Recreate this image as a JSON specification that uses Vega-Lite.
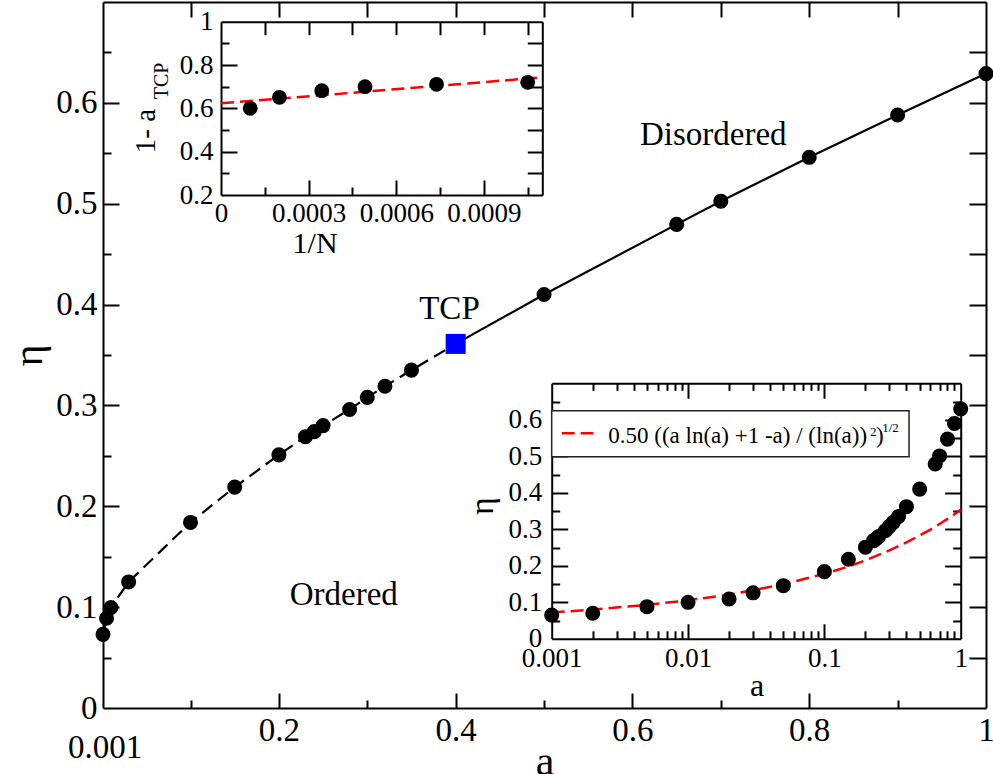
{
  "$schema": "https://vega.github.io/schema/vega-lite/v6.json",
  "width": 883,
  "height": 706,
  "autosize": {"type": "none"},
  "padding": {"left": 103, "top": 2, "right": 7, "bottom": 66},
  "background": "white",
  "config": {
    "view": {"stroke": null},
    "font": "Liberation Serif",
    "axis": {"grid": false, "domainColor": "black", "domainWidth": 2, "tickColor": "black", "tickWidth": 2, "labelColor": "black", "labelFont": "Liberation Serif", "titleFont": "Liberation Serif", "titleFontWeight": "normal", "titleColor": "black", "labelFlush": false, "labelOverlap": false},
    "text": {"font": "Liberation Serif", "color": "black"}
  },
  "datasets": {
    "phase": [
      {"a": 0.001, "eta": 0.073, "branch": "ordered"},
      {"a": 0.005, "eta": 0.089, "branch": "ordered"},
      {"a": 0.01, "eta": 0.0996, "branch": "ordered"},
      {"a": 0.03, "eta": 0.125, "branch": "ordered"},
      {"a": 0.1, "eta": 0.184, "branch": "ordered"},
      {"a": 0.15, "eta": 0.219, "branch": "ordered"},
      {"a": 0.2, "eta": 0.251, "branch": "ordered"},
      {"a": 0.23, "eta": 0.269, "branch": "ordered"},
      {"a": 0.24, "eta": 0.274, "branch": "ordered"},
      {"a": 0.25, "eta": 0.28, "branch": "ordered"},
      {"a": 0.28, "eta": 0.296, "branch": "ordered"},
      {"a": 0.3, "eta": 0.308, "branch": "ordered"},
      {"a": 0.32, "eta": 0.319, "branch": "ordered"},
      {"a": 0.35, "eta": 0.335, "branch": "ordered"},
      {"a": 0.4, "eta": 0.361, "branch": "tcp"},
      {"a": 0.5, "eta": 0.41, "branch": "disordered"},
      {"a": 0.65, "eta": 0.4795, "branch": "disordered"},
      {"a": 0.7, "eta": 0.5025, "branch": "disordered"},
      {"a": 0.8, "eta": 0.546, "branch": "disordered"},
      {"a": 0.9, "eta": 0.588, "branch": "disordered"},
      {"a": 1.0, "eta": 0.629, "branch": "disordered"}
    ],
    "main_text": [
      {"t": "TCP", "a": 0.393, "eta": 0.3854},
      {"t": "Ordered", "a": 0.2734, "eta": 0.1021},
      {"t": "Disordered", "a": 0.6915, "eta": 0.5582},
      {"t": "0.001", "a": 0.0033, "eta": -0.0499}
    ],
    "tl_pts": [
      {"invN": 0.0001, "v": 0.6},
      {"invN": 0.0002, "v": 0.651},
      {"invN": 0.000345, "v": 0.6815},
      {"invN": 0.000493, "v": 0.7},
      {"invN": 0.000738, "v": 0.711},
      {"invN": 0.00105, "v": 0.72}
    ],
    "tl_fit": [
      {"invN": 0, "v": 0.623},
      {"invN": 0.0011, "v": 0.743}
    ],
    "tl_xtitle": [{"t": "1/N", "invN": 0.000322, "v": -0.0678}],
    "tl_ytitle": [{"t": "1- a", "invN": -0.0002568, "v": 0.4955}],
    "tl_ysub": [{"t": "TCP", "invN": -0.0002003, "v": 0.7263}],
    "br_pts": [
      {"a": 0.001, "eta": 0.065},
      {"a": 0.002, "eta": 0.07},
      {"a": 0.005, "eta": 0.088},
      {"a": 0.01, "eta": 0.1},
      {"a": 0.02, "eta": 0.109},
      {"a": 0.03, "eta": 0.126},
      {"a": 0.05, "eta": 0.1455},
      {"a": 0.1, "eta": 0.184},
      {"a": 0.15, "eta": 0.218},
      {"a": 0.2, "eta": 0.251},
      {"a": 0.23, "eta": 0.269},
      {"a": 0.24, "eta": 0.274},
      {"a": 0.25, "eta": 0.28},
      {"a": 0.28, "eta": 0.296},
      {"a": 0.3, "eta": 0.308},
      {"a": 0.32, "eta": 0.319},
      {"a": 0.35, "eta": 0.335},
      {"a": 0.4, "eta": 0.362},
      {"a": 0.5, "eta": 0.41},
      {"a": 0.65, "eta": 0.479},
      {"a": 0.7, "eta": 0.501},
      {"a": 0.8, "eta": 0.547},
      {"a": 0.9, "eta": 0.59},
      {"a": 1.0, "eta": 0.63}
    ],
    "br_fit": [
      {"a": 0.001, "eta": 0.072},
      {"a": 0.002, "eta": 0.08},
      {"a": 0.005, "eta": 0.093},
      {"a": 0.01, "eta": 0.1055},
      {"a": 0.02, "eta": 0.121},
      {"a": 0.05, "eta": 0.149},
      {"a": 0.1, "eta": 0.178},
      {"a": 0.15, "eta": 0.198},
      {"a": 0.2, "eta": 0.215},
      {"a": 0.3, "eta": 0.242},
      {"a": 0.4, "eta": 0.264},
      {"a": 0.5, "eta": 0.283},
      {"a": 0.6, "eta": 0.299},
      {"a": 0.7, "eta": 0.3145},
      {"a": 0.8, "eta": 0.3285},
      {"a": 0.9, "eta": 0.341},
      {"a": 1.0, "eta": 0.3535}
    ],
    "br_box": [{"a1": 0.001, "a2": 0.418, "e1": 0.4989, "e2": 0.625}],
    "br_sample": [
      {"a": 0.001184, "eta": 0.563},
      {"a": 0.002019, "eta": 0.563}
    ],
    "br_legtext": [
      {"t": "0.50 ((a ln(a) +1 -a) / (ln(a))", "a": 0.0026, "eta": 0.5356},
      {"t": ")", "a": 0.2392, "eta": 0.5356}
    ],
    "br_legsup": [
      {"t": "2", "a": 0.2162, "eta": 0.5556},
      {"t": "1/2", "a": 0.2655, "eta": 0.5674}
    ],
    "br_xtitle": [{"t": "a", "a": 0.03206, "eta": -0.1567}],
    "br_ytitle": [{"t": "η", "a": 0.000313, "eta": 0.3638}]
  },
  "layer": [
    {
      "resolve": {"axis": {"x": "independent", "y": "independent"}},
      "layer": [
        {
          "data": {"name": "phase"},
          "transform": [{"filter": "datum.branch != 'disordered'"}],
          "mark": {"type": "line", "color": "black", "strokeWidth": 2.2, "strokeDash": [13, 7]},
          "encoding": {
            "x": {"field": "a", "type": "quantitative", "scale": {"domain": [0.001, 1], "nice": false, "zero": false},
              "axis": {"orient": "bottom", "values": [0.2, 0.4, 0.6, 0.8, 1], "format": "~g", "ticks": false, "domain": true, "labelFontSize": 33, "labelPadding": 6, "title": "a", "titleFontSize": 42, "titleBaseline": "alphabetic", "titlePadding": 27}},
            "y": {"field": "eta", "type": "quantitative", "scale": {"domain": [0, 0.7], "nice": false, "zero": false},
              "axis": {"orient": "left", "values": [0, 0.1, 0.2, 0.3, 0.4, 0.5, 0.6], "format": "~g", "ticks": false, "domain": true, "labelFontSize": 33, "labelPadding": 6, "title": "η", "titleFontSize": 42, "titlePadding": 5}}
          }
        },
        {
          "data": {"name": "phase"},
          "transform": [{"filter": "datum.branch != 'ordered'"}],
          "mark": {"type": "line", "color": "black", "strokeWidth": 2.2},
          "encoding": {
            "x": {"field": "a", "type": "quantitative", "scale": {"domain": [0.001, 1], "nice": false, "zero": false},
              "axis": {"orient": "bottom", "values": [0.2, 0.4, 0.6, 0.8], "labels": false, "domain": false, "tickSize": -15, "title": null}},
            "y": {"field": "eta", "type": "quantitative", "scale": {"domain": [0, 0.7], "nice": false, "zero": false},
              "axis": {"orient": "left", "values": [0.1, 0.2, 0.3, 0.4, 0.5, 0.6], "labels": false, "domain": false, "tickSize": -16, "title": null}}
          }
        },
        {
          "data": {"name": "phase"},
          "transform": [{"filter": "datum.branch != 'tcp'"}],
          "mark": {"type": "circle", "color": "black", "opacity": 1, "size": 227},
          "encoding": {
            "x": {"field": "a", "type": "quantitative", "scale": {"domain": [0.001, 1], "nice": false, "zero": false},
              "axis": {"orient": "bottom", "values": [0.1, 0.3, 0.5, 0.7, 0.9], "labels": false, "domain": false, "tickSize": -8, "title": null}},
            "y": {"field": "eta", "type": "quantitative", "scale": {"domain": [0, 0.7], "nice": false, "zero": false},
              "axis": {"orient": "left", "values": [0.05, 0.15, 0.25, 0.35, 0.45, 0.55, 0.65], "labels": false, "domain": false, "tickSize": -8, "title": null}}
          }
        },
        {
          "data": {"name": "phase"},
          "transform": [{"filter": "datum.branch == 'tcp'"}],
          "mark": {"type": "square", "color": "#0000ff", "opacity": 1, "size": 400},
          "encoding": {
            "x": {"field": "a", "type": "quantitative", "scale": {"domain": [0.001, 1], "nice": false, "zero": false},
              "axis": {"orient": "top", "values": [0.1, 0.2, 0.3, 0.4, 0.5, 0.6, 0.7, 0.8, 0.9], "labels": false, "domain": true, "tickSize": -15, "title": null}},
            "y": {"field": "eta", "type": "quantitative", "scale": {"domain": [0, 0.7], "nice": false, "zero": false},
              "axis": {"orient": "right", "values": [0.05, 0.1, 0.15, 0.2, 0.25, 0.3, 0.35, 0.4, 0.45, 0.5, 0.55, 0.6, 0.65], "labels": false, "domain": true, "tickSize": -17, "title": null}}
          }
        },
        {
          "data": {"name": "main_text"},
          "mark": {"type": "text", "fontSize": 33, "align": "center", "baseline": "alphabetic"},
          "encoding": {
            "x": {"field": "a", "type": "quantitative", "scale": {"domain": [0.001, 1], "nice": false, "zero": false}, "axis": null},
            "y": {"field": "eta", "type": "quantitative", "scale": {"domain": [0, 0.7], "nice": false, "zero": false}, "axis": null},
            "text": {"field": "t"}
          }
        }
      ]
    },
    {
      "resolve": {"axis": {"x": "independent", "y": "independent"}},
      "layer": [
        {
          "data": {"name": "tl_fit"},
          "mark": {"type": "line", "color": "#ff0000", "strokeWidth": 2.5, "strokeDash": [13, 6]},
          "encoding": {
            "x": {"field": "invN", "type": "quantitative", "scale": {"domain": [0, 0.0011], "range": [118, 439.3], "nice": false, "zero": false},
              "axis": {"orient": "bottom", "offset": -513, "values": [0, 0.0003, 0.0006, 0.0009], "format": "~g", "ticks": false, "domain": true, "labelFontSize": 27, "labelPadding": 5, "title": null}},
            "y": {"field": "v", "type": "quantitative", "scale": {"domain": [0.2, 1], "range": [193, 19.7], "nice": false, "zero": false},
              "axis": {"orient": "left", "offset": -118, "values": [0.2, 0.4, 0.6, 0.8, 1], "format": "~g", "ticks": false, "domain": true, "labelFontSize": 27, "labelPadding": 8, "title": null}}
          }
        },
        {
          "data": {"name": "tl_pts"},
          "mark": {"type": "circle", "color": "black", "opacity": 1, "size": 220},
          "encoding": {
            "x": {"field": "invN", "type": "quantitative", "scale": {"domain": [0, 0.0011], "range": [118, 439.3], "nice": false, "zero": false},
              "axis": {"orient": "bottom", "offset": -513, "values": [0.0003, 0.0006, 0.0009], "labels": false, "domain": false, "tickSize": -15, "title": null}},
            "y": {"field": "v", "type": "quantitative", "scale": {"domain": [0.2, 1], "range": [193, 19.7], "nice": false, "zero": false},
              "axis": {"orient": "left", "offset": -118, "values": [0.4, 0.6, 0.8], "labels": false, "domain": false, "tickSize": -16, "title": null}}
          }
        },
        {
          "data": {"name": "tl_pts"},
          "mark": {"type": "point", "opacity": 0},
          "encoding": {
            "x": {"field": "invN", "type": "quantitative", "scale": {"domain": [0, 0.0011], "range": [118, 439.3], "nice": false, "zero": false},
              "axis": {"orient": "bottom", "offset": -513, "values": [0.00015, 0.00045, 0.00075, 0.00105], "labels": false, "domain": false, "tickSize": -8, "title": null}},
            "y": {"field": "v", "type": "quantitative", "scale": {"domain": [0.2, 1], "range": [193, 19.7], "nice": false, "zero": false},
              "axis": {"orient": "left", "offset": -118, "values": [0.3, 0.5, 0.7, 0.9], "labels": false, "domain": false, "tickSize": -8, "title": null}}
          }
        },
        {
          "data": {"name": "tl_pts"},
          "mark": {"type": "point", "opacity": 0},
          "encoding": {
            "x": {"field": "invN", "type": "quantitative", "scale": {"domain": [0, 0.0011], "range": [118, 439.3], "nice": false, "zero": false},
              "axis": {"orient": "top", "offset": -19.7, "values": [0.00015, 0.0003, 0.00045, 0.0006, 0.00075, 0.0009, 0.00105], "labels": false, "domain": true, "tickSize": -13, "title": null}},
            "y": {"field": "v", "type": "quantitative", "scale": {"domain": [0.2, 1], "range": [193, 19.7], "nice": false, "zero": false},
              "axis": {"orient": "right", "offset": -443.7, "values": [0.3, 0.4, 0.5, 0.6, 0.7, 0.8, 0.9], "labels": false, "domain": true, "tickSize": -15, "title": null}}
          }
        },
        {
          "data": {"name": "tl_xtitle"},
          "mark": {"type": "text", "fontSize": 30, "align": "center", "baseline": "alphabetic"},
          "encoding": {
            "x": {"field": "invN", "type": "quantitative", "scale": {"domain": [0, 0.0011], "range": [118, 439.3], "nice": false, "zero": false}, "axis": null},
            "y": {"field": "v", "type": "quantitative", "scale": {"domain": [0.2, 1], "range": [193, 19.7], "nice": false, "zero": false}, "axis": null},
            "text": {"field": "t"}
          }
        },
        {
          "data": {"name": "tl_ytitle"},
          "mark": {"type": "text", "fontSize": 29, "align": "center", "baseline": "middle", "angle": 270},
          "encoding": {
            "x": {"field": "invN", "type": "quantitative", "scale": {"domain": [0, 0.0011], "range": [118, 439.3], "nice": false, "zero": false}, "axis": null},
            "y": {"field": "v", "type": "quantitative", "scale": {"domain": [0.2, 1], "range": [193, 19.7], "nice": false, "zero": false}, "axis": null},
            "text": {"field": "t"}
          }
        },
        {
          "data": {"name": "tl_ysub"},
          "mark": {"type": "text", "fontSize": 20, "align": "center", "baseline": "middle", "angle": 270},
          "encoding": {
            "x": {"field": "invN", "type": "quantitative", "scale": {"domain": [0, 0.0011], "range": [118, 439.3], "nice": false, "zero": false}, "axis": null},
            "y": {"field": "v", "type": "quantitative", "scale": {"domain": [0.2, 1], "range": [193, 19.7], "nice": false, "zero": false}, "axis": null},
            "text": {"field": "t"}
          }
        }
      ]
    },
    {
      "resolve": {"axis": {"x": "independent", "y": "independent"}},
      "layer": [
        {
          "data": {"name": "br_fit"},
          "mark": {"type": "line", "color": "#ff0000", "strokeWidth": 2.5, "strokeDash": [13, 6]},
          "encoding": {
            "x": {"field": "a", "type": "quantitative", "scale": {"type": "log", "domain": [0.001, 1], "range": [448.7, 857.7], "nice": false},
              "axis": {"orient": "bottom", "offset": -69.2, "values": [0.001, 0.01, 0.1, 1], "format": "~g", "ticks": false, "domain": true, "labelFontSize": 27, "labelPadding": 7, "title": null}},
            "y": {"field": "eta", "type": "quantitative", "scale": {"domain": [0, 0.7], "range": [636.8, 381.3], "nice": false, "zero": false},
              "axis": {"orient": "left", "offset": -448.7, "values": [0, 0.1, 0.2, 0.3, 0.4, 0.5, 0.6], "format": "~g", "ticks": false, "domain": true, "labelFontSize": 27, "labelPadding": 10, "title": null}}
          }
        },
        {
          "data": {"name": "br_pts"},
          "mark": {"type": "circle", "color": "black", "opacity": 1, "size": 227},
          "encoding": {
            "x": {"field": "a", "type": "quantitative", "scale": {"type": "log", "domain": [0.001, 1], "range": [448.7, 857.7], "nice": false},
              "axis": {"orient": "bottom", "offset": -69.2, "values": [0.01, 0.1], "labels": false, "domain": false, "tickSize": -15, "title": null}},
            "y": {"field": "eta", "type": "quantitative", "scale": {"domain": [0, 0.7], "range": [636.8, 381.3], "nice": false, "zero": false},
              "axis": {"orient": "left", "offset": -448.7, "values": [0.1, 0.2, 0.3, 0.4, 0.5, 0.6], "labels": false, "domain": false, "tickSize": -16, "title": null}}
          }
        },
        {
          "data": {"name": "br_pts"},
          "mark": {"type": "point", "opacity": 0},
          "encoding": {
            "x": {"field": "a", "type": "quantitative", "scale": {"type": "log", "domain": [0.001, 1], "range": [448.7, 857.7], "nice": false},
              "axis": {"orient": "bottom", "offset": -69.2, "values": [0.002, 0.003, 0.004, 0.005, 0.006, 0.007, 0.008, 0.009, 0.02, 0.03, 0.04, 0.05, 0.06, 0.07, 0.08, 0.09, 0.2, 0.3, 0.4, 0.5, 0.6, 0.7, 0.8, 0.9], "labels": false, "domain": false, "tickSize": -8, "title": null}},
            "y": {"field": "eta", "type": "quantitative", "scale": {"domain": [0, 0.7], "range": [636.8, 381.3], "nice": false, "zero": false},
              "axis": {"orient": "left", "offset": -448.7, "values": [0.05, 0.15, 0.25, 0.35, 0.45, 0.55, 0.65], "labels": false, "domain": false, "tickSize": -8, "title": null}}
          }
        },
        {
          "data": {"name": "br_pts"},
          "mark": {"type": "point", "opacity": 0},
          "encoding": {
            "x": {"field": "a", "type": "quantitative", "scale": {"type": "log", "domain": [0.001, 1], "range": [448.7, 857.7], "nice": false},
              "axis": {"orient": "top", "offset": -381.3, "values": [0.01, 0.1], "labels": false, "domain": true, "tickSize": -15, "title": null}},
            "y": {"field": "eta", "type": "quantitative", "scale": {"domain": [0, 0.7], "range": [636.8, 381.3], "nice": false, "zero": false},
              "axis": {"orient": "right", "offset": -25.3, "values": [0.1, 0.2, 0.3, 0.4, 0.5, 0.6], "labels": false, "domain": true, "tickSize": -16, "title": null}}
          }
        },
        {
          "data": {"name": "br_pts"},
          "mark": {"type": "point", "opacity": 0},
          "encoding": {
            "x": {"field": "a", "type": "quantitative", "scale": {"type": "log", "domain": [0.001, 1], "range": [448.7, 857.7], "nice": false},
              "axis": {"orient": "top", "offset": -381.3, "values": [0.002, 0.003, 0.004, 0.005, 0.006, 0.007, 0.008, 0.009, 0.02, 0.03, 0.04, 0.05, 0.06, 0.07, 0.08, 0.09, 0.2, 0.3, 0.4, 0.5, 0.6, 0.7, 0.8, 0.9], "labels": false, "domain": false, "tickSize": -7, "title": null}},
            "y": {"field": "eta", "type": "quantitative", "scale": {"domain": [0, 0.7], "range": [636.8, 381.3], "nice": false, "zero": false},
              "axis": {"orient": "right", "offset": -25.3, "values": [0.05, 0.15, 0.25, 0.35, 0.45, 0.55, 0.65], "labels": false, "domain": false, "tickSize": -8, "title": null}}
          }
        },
        {
          "data": {"name": "br_box"},
          "mark": {"type": "rect", "fill": "white", "stroke": "#222222", "strokeWidth": 1.5},
          "encoding": {
            "x": {"field": "a1", "type": "quantitative", "scale": {"type": "log", "domain": [0.001, 1], "range": [448.7, 857.7], "nice": false}, "axis": null},
            "x2": {"field": "a2"},
            "y": {"field": "e1", "type": "quantitative", "scale": {"domain": [0, 0.7], "range": [636.8, 381.3], "nice": false, "zero": false}, "axis": null},
            "y2": {"field": "e2"}
          }
        },
        {
          "data": {"name": "br_sample"},
          "mark": {"type": "line", "color": "#ff0000", "strokeWidth": 2.5, "strokeDash": [13, 6]},
          "encoding": {
            "x": {"field": "a", "type": "quantitative", "scale": {"type": "log", "domain": [0.001, 1], "range": [448.7, 857.7], "nice": false}, "axis": null},
            "y": {"field": "eta", "type": "quantitative", "scale": {"domain": [0, 0.7], "range": [636.8, 381.3], "nice": false, "zero": false}, "axis": null}
          }
        },
        {
          "data": {"name": "br_legtext"},
          "mark": {"type": "text", "fontSize": 23, "align": "left", "baseline": "alphabetic"},
          "encoding": {
            "x": {"field": "a", "type": "quantitative", "scale": {"type": "log", "domain": [0.001, 1], "range": [448.7, 857.7], "nice": false}, "axis": null},
            "y": {"field": "eta", "type": "quantitative", "scale": {"domain": [0, 0.7], "range": [636.8, 381.3], "nice": false, "zero": false}, "axis": null},
            "text": {"field": "t"}
          }
        },
        {
          "data": {"name": "br_legsup"},
          "mark": {"type": "text", "fontSize": 13, "align": "left", "baseline": "alphabetic"},
          "encoding": {
            "x": {"field": "a", "type": "quantitative", "scale": {"type": "log", "domain": [0.001, 1], "range": [448.7, 857.7], "nice": false}, "axis": null},
            "y": {"field": "eta", "type": "quantitative", "scale": {"domain": [0, 0.7], "range": [636.8, 381.3], "nice": false, "zero": false}, "axis": null},
            "text": {"field": "t"}
          }
        },
        {
          "data": {"name": "br_xtitle"},
          "mark": {"type": "text", "fontSize": 32, "align": "center", "baseline": "alphabetic"},
          "encoding": {
            "x": {"field": "a", "type": "quantitative", "scale": {"type": "log", "domain": [0.001, 1], "range": [448.7, 857.7], "nice": false}, "axis": null},
            "y": {"field": "eta", "type": "quantitative", "scale": {"domain": [0, 0.7], "range": [636.8, 381.3], "nice": false, "zero": false}, "axis": null},
            "text": {"field": "t"}
          }
        },
        {
          "data": {"name": "br_ytitle"},
          "mark": {"type": "text", "fontSize": 34, "align": "center", "baseline": "middle", "angle": 270},
          "encoding": {
            "x": {"field": "a", "type": "quantitative", "scale": {"type": "log", "domain": [0.001, 1], "range": [448.7, 857.7], "nice": false}, "axis": null},
            "y": {"field": "eta", "type": "quantitative", "scale": {"domain": [0, 0.7], "range": [636.8, 381.3], "nice": false, "zero": false}, "axis": null},
            "text": {"field": "t"}
          }
        }
      ]
    }
  ],
  "resolve": {"scale": {"x": "independent", "y": "independent"}, "axis": {"x": "independent", "y": "independent"}}
}
